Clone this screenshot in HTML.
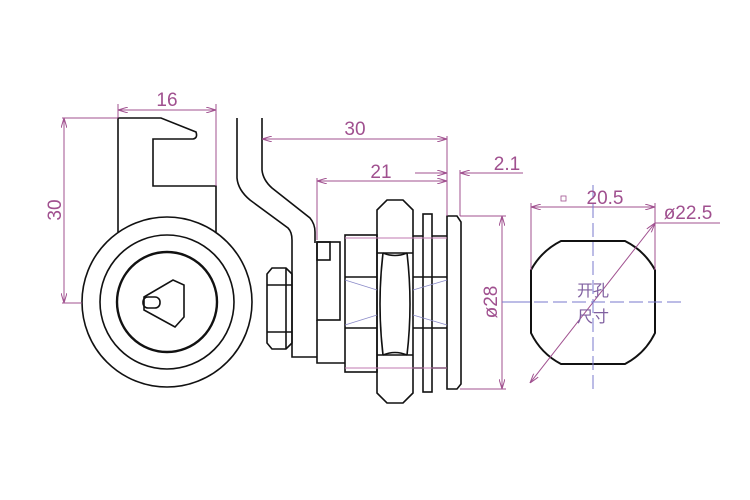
<!DOCTYPE html>
<html><head><meta charset="utf-8"><style>body{margin:0;background:#fff}svg{display:block}</style></head><body>
<svg width="750" height="500" viewBox="0 0 750 500" xmlns="http://www.w3.org/2000/svg" font-family="Liberation Sans, sans-serif">
<defs>
<marker id="a" markerWidth="10" markerHeight="6" refX="10" refY="3" orient="auto-start-reverse" markerUnits="userSpaceOnUse"><path d="M0,0L10,3L0,6" fill="none" stroke="#a0508f" stroke-width="1"/></marker>
</defs>
<rect width="750" height="500" fill="#fff"/>
<g fill="none" stroke="#111" stroke-width="1.6">
<path d="M118,232 V118 H161 L196,132 Q198,138 193,139 H153 V186 H216 V232"/>
<circle cx="167" cy="302" r="85"/>
<circle cx="167" cy="302" r="67"/>
<circle cx="167" cy="302" r="50" stroke-width="2.4"/>
<path d="M144,297 L173,280 L184,285 V317 L175,327 L144,310 Z"/>
<rect x="143" y="297" width="17" height="11" rx="5"/>
<path d="M237,118 V178 Q238,190 250,200 L288,228 Q292,232 292,240 V357 H317"/>
<path d="M262,118 V170 Q263,180 272,188 L310,218 Q315,224 315,232 V243"/>
<path d="M272,268 H286 L292,274 V343 L286,349 H272 L267,343 V274 Z"/>
<line x1="267" y1="285" x2="292" y2="285"/><line x1="267" y1="332" x2="292" y2="332"/>
<line x1="286" y1="268" x2="286" y2="349"/>
<rect x="317" y="242" width="23" height="78"/>
<rect x="317" y="242" width="13" height="18"/>
<path d="M317,320 V363 H345"/>
<rect x="345" y="235" width="32" height="137"/>
<line x1="345" y1="277" x2="377" y2="277"/><line x1="345" y1="328" x2="377" y2="328"/>
<path d="M387,200 H403 L413,210 V393 L403,403 H387 L377,393 V210 Z"/>
<path d="M377,253 H413 M377,355 H413"/>
<path d="M383,253 Q377,304 383,355 M407,253 Q413,304 407,355"/>
<path d="M383,253 Q395,258 407,253 M383,355 Q395,350 407,355"/>
<path d="M413,236 H423 M413,368 H423 M432,236 H447 M432,368 H447 M413,277 H447 M413,328 H447"/>
<rect x="423" y="214" width="9" height="178"/>
<path d="M447,216 H457 L461,222 V384 L457,389 H447 Z"/>
<path d="M561,241 H625 A69,69 0 0 1 655,270 V333 A69,69 0 0 1 625,364 H561 A69,69 0 0 1 531,333 V270 A69,69 0 0 1 561,241 Z" stroke-width="2"/>
</g>
<g stroke="#8a8ac8" stroke-width="0.8">
<line x1="345" y1="280" x2="377" y2="290"/><line x1="345" y1="325" x2="377" y2="315"/>
<line x1="413" y1="290" x2="447" y2="280"/><line x1="413" y1="315" x2="447" y2="325"/>
</g>
<g stroke="#c07ab0" stroke-width="1"><line x1="345" y1="238" x2="447" y2="238"/><line x1="345" y1="368" x2="447" y2="368"/></g>
<g stroke="#a0508f" stroke-width="1" fill="none">
<path d="M118,118 V104 M216,186 V104 M62,118 H118 M62,303 H82 M447,136 V216 M317,178 V240 M460,170 V216 M460,216 H506 M460,389 H506 M531,270 V203 M655,270 V203 M655,223 H720"/>
<line x1="118" y1="110" x2="216" y2="110" marker-start="url(#a)" marker-end="url(#a)"/>
<line x1="64" y1="118" x2="64" y2="303" marker-start="url(#a)" marker-end="url(#a)"/>
<line x1="262" y1="139" x2="447" y2="139" marker-start="url(#a)" marker-end="url(#a)"/>
<line x1="317" y1="181" x2="447" y2="181" marker-start="url(#a)" marker-end="url(#a)"/>
<line x1="415" y1="173" x2="447" y2="173" marker-end="url(#a)"/>
<line x1="523" y1="173" x2="460" y2="173" marker-end="url(#a)"/>
<line x1="502" y1="216" x2="502" y2="389" marker-start="url(#a)" marker-end="url(#a)"/>
<line x1="531" y1="207" x2="655" y2="207" marker-start="url(#a)" marker-end="url(#a)"/>
<line x1="530" y1="383" x2="655" y2="223" marker-start="url(#a)" marker-end="url(#a)"/>
</g>
<g stroke="#7a7acc" stroke-width="1">
<line x1="593" y1="185" x2="593" y2="390" stroke-dasharray="14,5"/>
<line x1="515" y1="302" x2="682" y2="302" stroke-dasharray="14,5"/>
<line x1="502" y1="302" x2="530" y2="302"/>
</g>
<g fill="#a0508f" font-size="19">
<text x="167" y="106" text-anchor="middle">16</text>
<text x="355" y="135" text-anchor="middle">30</text>
<text x="381" y="178" text-anchor="middle">21</text>
<text x="507" y="170" text-anchor="middle">2.1</text>
<text transform="translate(61,210) rotate(-90)" text-anchor="middle">30</text>
<text transform="translate(497,302) rotate(-90)" text-anchor="middle">ø28</text>
<text x="605" y="204" text-anchor="middle">20.5</text>
<text x="688" y="219" text-anchor="middle">ø22.5</text>
</g>
<rect x="561" y="196" width="5" height="5" fill="none" stroke="#a0508f" stroke-width="0.8"/>
<g fill="#8060a0" font-size="16" font-family="Liberation Sans, Noto Sans CJK SC, sans-serif" text-anchor="middle">
<text x="593" y="296">开孔</text><text x="593" y="322">尺寸</text>
</g>
</svg>
</body></html>
